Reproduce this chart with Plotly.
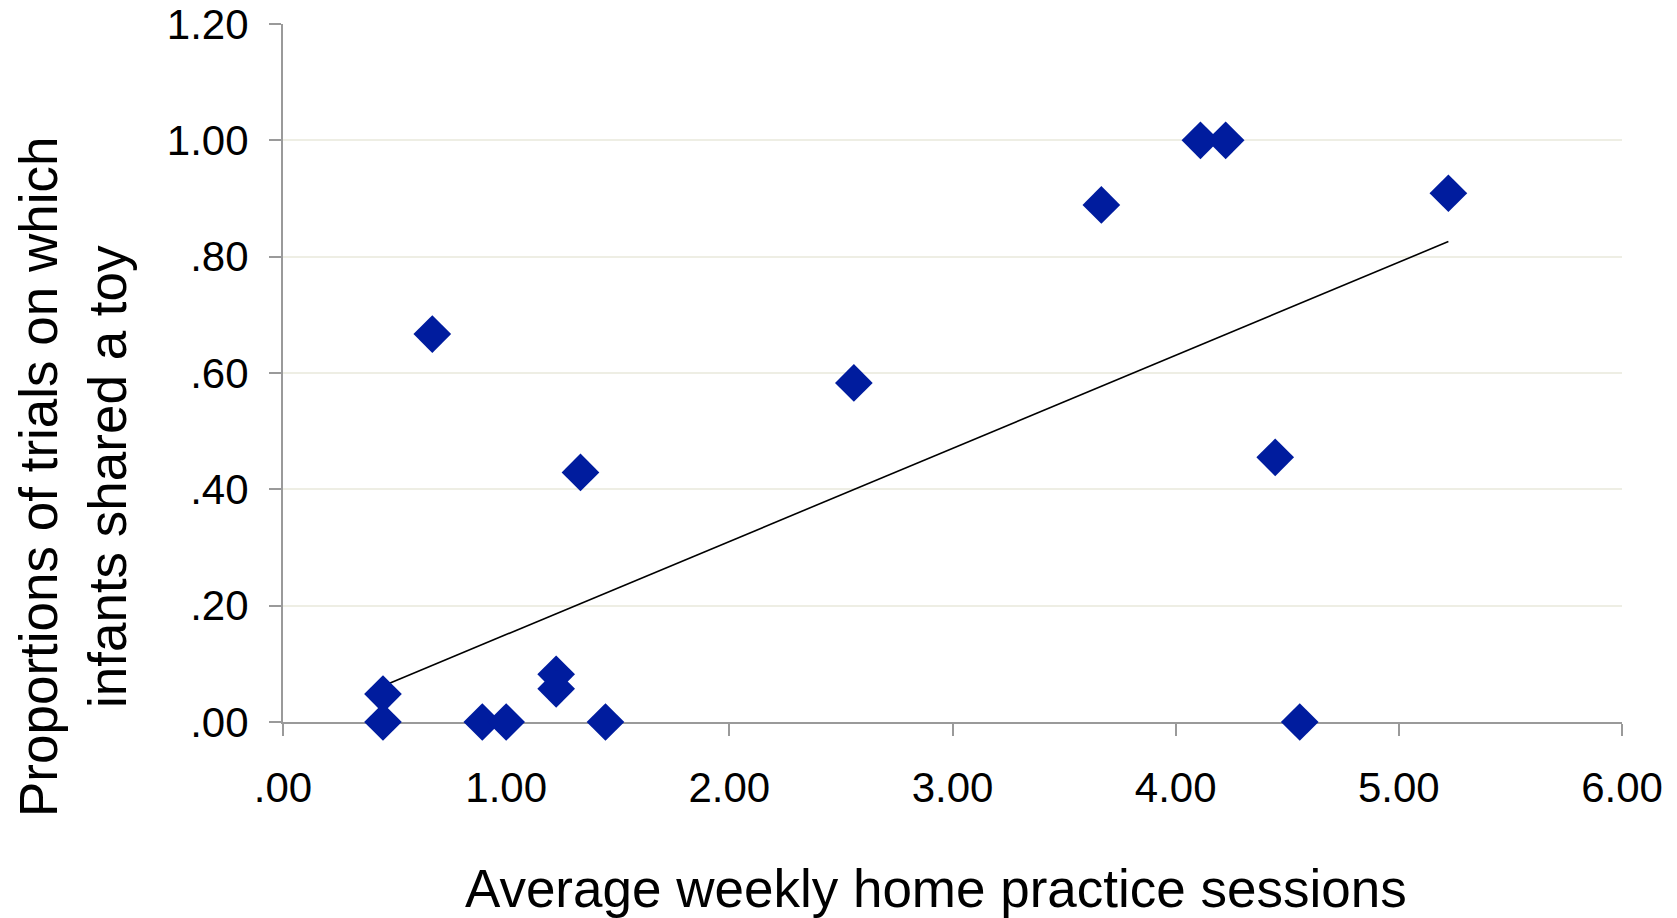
import plotly.graph_objects as go

# Data
sessions = [0.448, 0.448, 0.669, 0.893, 1.000, 1.224, 1.224, 1.333, 1.445,
            2.558, 3.667, 4.111, 4.224, 4.446, 4.556, 5.222]
proportions = [0.048, 0.000, 0.667, 0.000, 0.000, 0.082, 0.057, 0.429, 0.000,
               0.583, 0.889, 1.000, 1.000, 0.455, 0.000, 0.909]

trend_x = [0.448, 5.222]
trend_y = [0.062, 0.826]

x_ticks = [0, 1, 2, 3, 4, 5, 6]
x_tick_labels = [".00", "1.00", "2.00", "3.00", "4.00", "5.00", "6.00"]
y_ticks = [0, 0.2, 0.4, 0.6, 0.8, 1.0, 1.2]
y_tick_labels = [".00", ".20", ".40", ".60", ".80", "1.00", "1.20"]

FONT = "Liberation Sans, Arial, sans-serif"
MARKER = "#001C9E"

fig = go.Figure()
fig.add_trace(go.Scatter(
    x=trend_x, y=trend_y, mode="lines",
    line=dict(color="black", width=1.6),
    hoverinfo="skip", showlegend=False, cliponaxis=False,
))
fig.add_trace(go.Scatter(
    x=sessions, y=proportions, mode="markers",
    marker=dict(symbol="diamond", size=29, color=MARKER, line=dict(width=0)),
    showlegend=False, cliponaxis=False,
))

L, R, T, B = 283, 55, 24, 196
PW = 1677 - L - R
PH = 918 - T - B

fig.update_layout(
    width=1677, height=918,
    margin=dict(l=L, r=R, t=T, b=B),
    paper_bgcolor="white", plot_bgcolor="white",
    font=dict(family=FONT, size=42, color="black"),
    xaxis=dict(
        range=[0, 6], tickmode="array", tickvals=x_ticks, ticktext=x_tick_labels,
        showgrid=False, zeroline=False, showline=True,
        linecolor="#9A9A9A", linewidth=2,
        ticks="outside", ticklen=12, tickcolor="#9A9A9A", tickwidth=2,
        tickfont=dict(size=42, family=FONT, color="black"),
        ticklabelstandoff=16, automargin=False,
        layer="below traces", fixedrange=True,
    ),
    yaxis=dict(
        range=[0, 1.2], tickmode="array", tickvals=y_ticks, ticktext=y_tick_labels,
        showgrid=True, gridcolor="#EEEEE4", gridwidth=2,
        zeroline=False, showline=True,
        linecolor="#9A9A9A", linewidth=2,
        ticks="outside", ticklen=12, tickcolor="#9A9A9A", tickwidth=2,
        tickfont=dict(size=42, family=FONT, color="black"),
        ticklabelstandoff=12, automargin=False,
        layer="below traces", fixedrange=True,
    ),
    annotations=[
        dict(text="Average weekly home practice sessions",
             xref="paper", yref="paper", x=(936 - L) / PW, y=-(888 - 722) / PH,
             xanchor="center", yanchor="middle", showarrow=False,
             font=dict(size=53, family=FONT, color="black")),
        dict(text="Proportions of trials on which<br>infants shared a toy",
             xref="paper", yref="paper", x=-(L - 73) / PW, y=(722 - 477) / PH,
             xanchor="center", yanchor="middle", showarrow=False, textangle=-90,
             font=dict(size=53, family=FONT, color="black")),
    ],
)

fig.write_html("out.html")
